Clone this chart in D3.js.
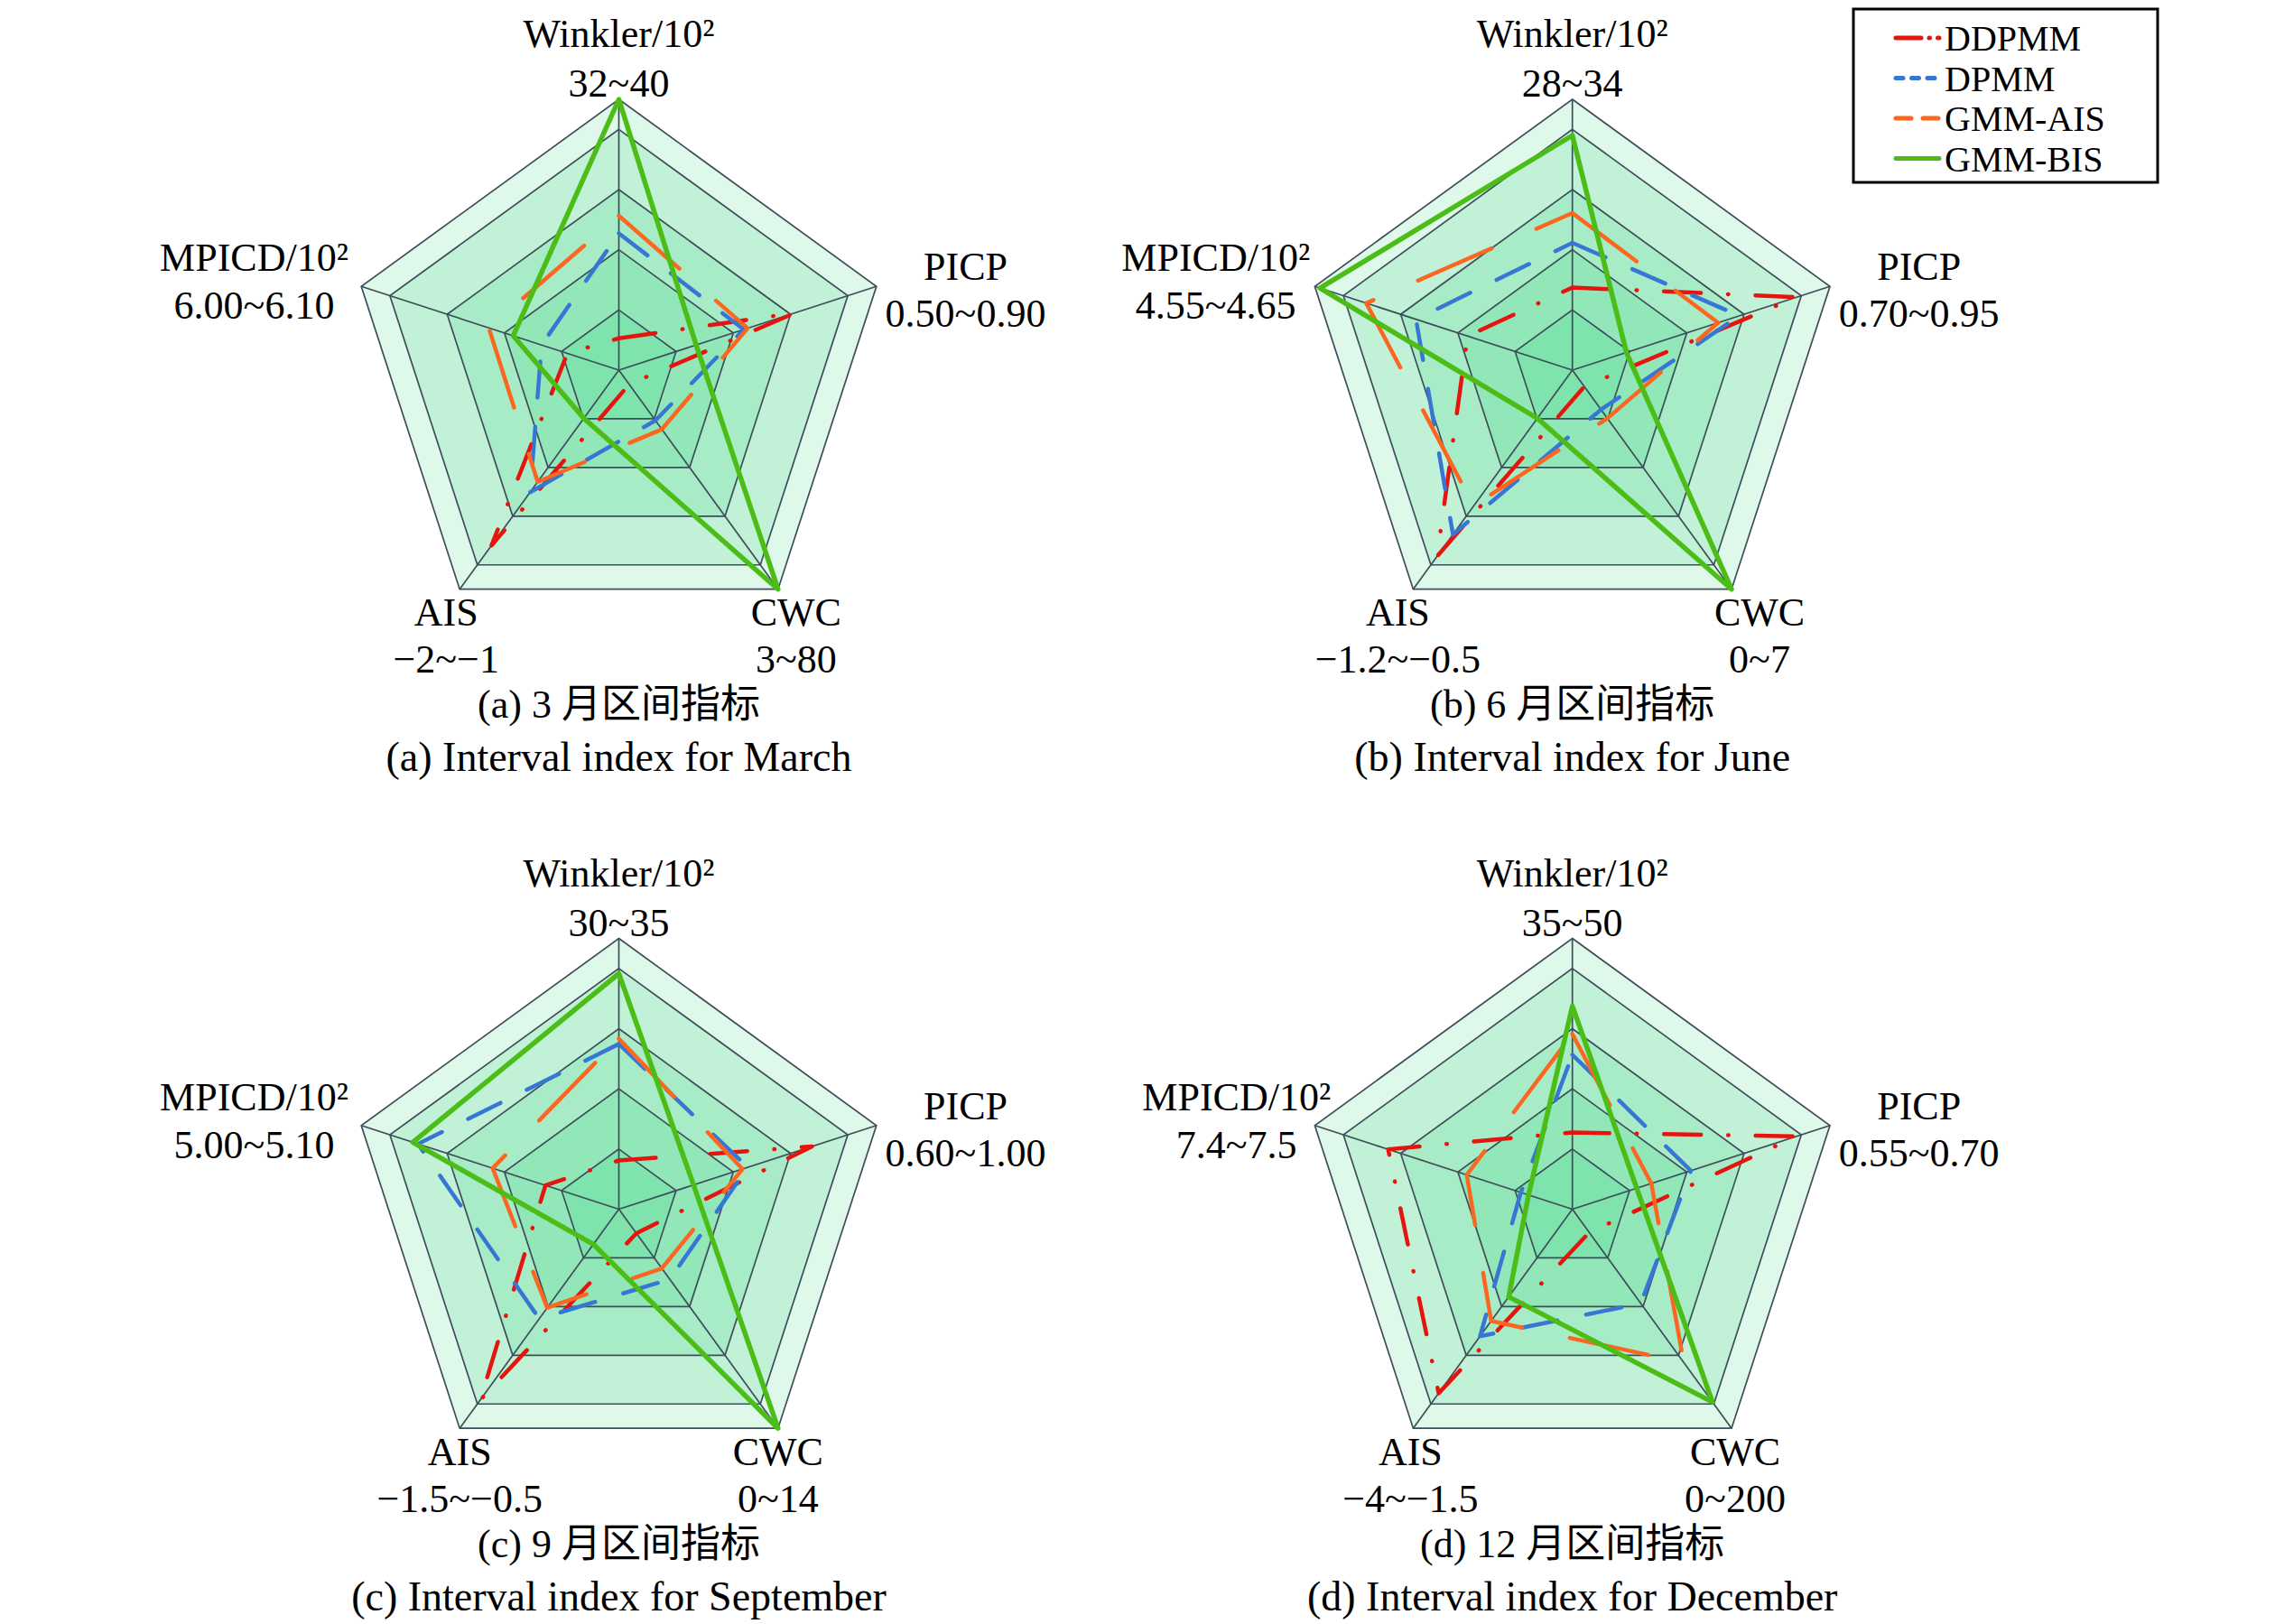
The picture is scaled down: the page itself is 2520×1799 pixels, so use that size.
<!DOCTYPE html>
<html><head><meta charset="utf-8">
<script src="https://cdn.jsdelivr.net/npm/d3@7"></script>
<style>
body{margin:0;background:#fff}
text{font-family:"Liberation Serif","Noto Sans CJK SC",serif;fill:#000}
</style>
</head><body>
<svg id="chart" width="2520" height="1799" xmlns="http://www.w3.org/2000/svg"></svg>
<script>
// ---------------- data ----------------
const axisNames = ["Winkler/10²", "PICP", "CWC", "AIS", "MPICD/10²"];
const seriesNames = ["DDPMM", "DPMM", "GMM-AIS", "GMM-BIS"];
const seriesColors = ["#e5140f", "#3876d4", "#fb6620", "#4bbd16"];

const captionsCN = ["(a) 3 月区间指标", "(b) 6 月区间指标", "(c) 9 月区间指标", "(d) 12 月区间指标"];
const captionsEN = ["(a) Interval index for March", "(b) Interval index for June",
                    "(c) Interval index for September", "(d) Interval index for December"];

// axis ranges, order: Winkler, PICP, CWC, AIS, MPICD
const rangesMarch = [[32, 40], [0.50, 0.90], [3, 80], [-2, -1], [6.00, 6.10]];
const rangesJune  = [[28, 34], [0.70, 0.95], [0, 7], [-1.2, -0.5], [4.55, 4.65]];
const rangesSept  = [[30, 35], [0.60, 1.00], [0, 14], [-1.5, -0.5], [5.00, 5.10]];
const rangesDec   = [[35, 50], [0.55, 0.70], [0, 200], [-4, -1.5], [7.4, 7.5]];

const rangeLabelsMarch = ["32~40", "0.50~0.90", "3~80", "−2~−1", "6.00~6.10"];
const rangeLabelsJune  = ["28~34", "0.70~0.95", "0~7", "−1.2~−0.5", "4.55~4.65"];
const rangeLabelsSept  = ["30~35", "0.60~1.00", "0~14", "−1.5~−0.5", "5.00~5.10"];
const rangeLabelsDec   = ["35~50", "0.55~0.70", "0~200", "−4~−1.5", "7.4~7.5"];

// series values (DDPMM, DPMM, GMM-AIS, GMM-BIS), order: Winkler, PICP, CWC, AIS, MPICD
const valuesMarch = [
  [32.94, 0.773, 8.0, -1.20, 6.020],
  [36.04, 0.694, 20.7, -1.443, 6.030],
  [36.56, 0.700, 23.8, -1.49, 6.0505],
  [40.00, 0.620, 80.0, -1.78, 6.041]
];
const valuesJune = [
  [29.83, 0.918, 0.525, -0.605, 4.5907],
  [30.82, 0.862, 1.26, -0.675, 4.6107],
  [31.48, 0.8415, 1.54, -0.766, 4.630],
  [33.20, 0.7525, 7.0, -1.046, 4.648]
];
const valuesSept = [
  [30.90, 0.900, 1.54, -0.63, 5.0285],
  [33.05, 0.800, 4.48, -1.00, 5.078],
  [33.15, 0.792, 3.78, -1.05, 5.049],
  [34.35, 0.716, 14.0, -1.34, 5.080]
];
const valuesDec = [
  [39.25, 0.6805, 21.2, -1.90, 7.4715],
  [43.55, 0.619, 86.0, -2.55, 7.420],
  [44.70, 0.596, 140.0, -2.725, 7.441],
  [46.25, 0.5875, 176.0, -3.00, 7.417]
];

const ringLevels = [2/9, 4/9, 6/9, 8/9, 1];

// ---------------- layout / style ----------------
const W = 2520, H = 1799, R = 300;
const panels = [
  {cx: 685.5, cy: 410,   ranges: rangesMarch, labels: rangeLabelsMarch, values: valuesMarch, leftDx: -404, botDx: [-15, 20]},
  {cx: 1741.7, cy: 410,  ranges: rangesJune,  labels: rangeLabelsJune,  values: valuesJune,  leftDx: -395, botDx: [-17, 31]},
  {cx: 685.5, cy: 1339.5, ranges: rangesSept,  labels: rangeLabelsSept,  values: valuesSept,  leftDx: -404, botDx: [0, 0]},
  {cx: 1741.7, cy: 1339.5, ranges: rangesDec,  labels: rangeLabelsDec,   values: valuesDec,   leftDx: -372, botDx: [-3, 4]}
];
const dashes = ["41,30,0.5,30", "40,32.5", "89,54", null];
const widths = [4.5, 4.5, 4.5, 5.5];
const legendDashes = ["28,9,0.5,9", "8,9.5", "17,13", null];
const FS = 44;

const svg = d3.select("#chart");
svg.append("rect").attr("width", W).attr("height", H).attr("fill", "#fff");

const angle = i => i * 2 * Math.PI / 5;

panels.forEach((p, pi) => {
  const g = svg.append("g").attr("transform", `translate(${p.cx},${p.cy})`);
  const scales = p.ranges.map(r => d3.scaleLinear().domain(r).range([0, R]));

  // rings (filled, overlapping)
  const ringLine = d3.lineRadial().angle((d, i) => angle(i)).radius(d => d).curve(d3.curveLinearClosed);
  ringLevels.slice().reverse().forEach(lv => {
    g.append("path").attr("d", ringLine(d3.range(5).map(() => lv * R)))
      .attr("fill", "rgb(0,200,90)").attr("fill-opacity", 0.13)
      .attr("stroke", "#3f4d5a").attr("stroke-width", 1.7);
  });
  // spokes
  d3.range(5).forEach(i => {
    const a = angle(i);
    g.append("line").attr("x1", 0).attr("y1", 0)
      .attr("x2", R * Math.sin(a)).attr("y2", -R * Math.cos(a))
      .attr("stroke", "#3f4d5a").attr("stroke-width", 1.7);
  });

  // series
  const line = d3.lineRadial().angle((d, i) => angle(i)).radius((d, i) => scales[i](d)).curve(d3.curveLinearClosed);
  p.values.forEach((vals, si) => {
    g.append("path").attr("d", line(vals))
      .attr("fill", "none").attr("stroke", seriesColors[si])
      .attr("stroke-width", widths[si])
      .attr("stroke-dasharray", dashes[si])
      .attr("stroke-linecap", si === 3 ? "butt" : "round")
      .attr("stroke-linejoin", "round");
  });

  // axis labels
  const vx = i => R * Math.sin(angle(i));
  const lab = (x, y, t) => g.append("text").attr("x", x).attr("y", y)
      .attr("text-anchor", "middle").attr("font-size", FS).text(t);
  // top
  lab(0, -358, axisNames[0]); lab(0, -303, p.labels[0]);
  // right
  lab(384, -100, axisNames[1]); lab(384, -48, p.labels[1]);
  // bottom right
  lab(vx(2) + p.botDx[1], 283, axisNames[2]); lab(vx(2) + p.botDx[1], 335, p.labels[2]);
  // bottom left
  lab(vx(3) + p.botDx[0], 283, axisNames[3]); lab(vx(3) + p.botDx[0], 335, p.labels[3]);
  // left
  lab(p.leftDx, -110, axisNames[4]); lab(p.leftDx, -57, p.labels[4]);

  // captions
  lab(0, 385, captionsCN[pi]);
  g.append("text").attr("x", 0).attr("y", 444).attr("text-anchor", "middle")
    .attr("font-size", 46).text(captionsEN[pi]);
});

// legend
const lg = svg.append("g").attr("transform", "translate(2053,10)");
lg.append("rect").attr("width", 337).attr("height", 192).attr("fill", "#fff")
  .attr("stroke", "#000").attr("stroke-width", 3);
seriesNames.forEach((s, i) => {
  const y = 32 + i * 44.5;
  lg.append("line").attr("x1", 47).attr("x2", 95).attr("y1", y).attr("y2", y)
    .attr("stroke", seriesColors[i]).attr("stroke-width", 5)
    .attr("stroke-dasharray", legendDashes[i])
    .attr("stroke-linecap", "round");
  lg.append("text").attr("x", 101).attr("y", y + 14).attr("font-size", 40).text(s);
});
</script>
</body></html>
